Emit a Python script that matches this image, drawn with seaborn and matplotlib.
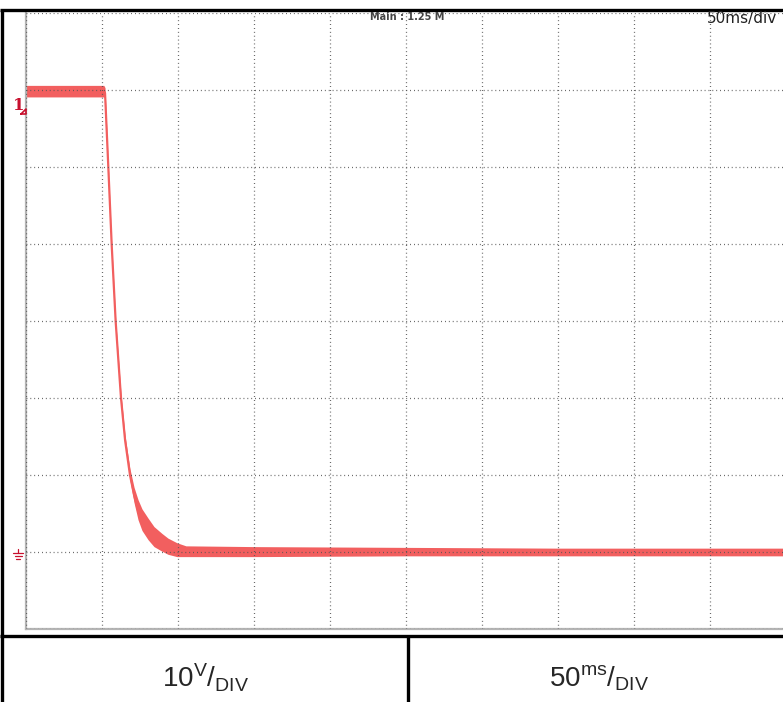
import numpy as np
import pandas as pd
import matplotlib
matplotlib.use("Agg")
import matplotlib.pyplot as plt
from matplotlib.lines import Line2D
import seaborn as sns

# valores (10 V/div, 50 ms/div, tierra = 0 V)
tiempo_ms = [0, 51.0, 51.8, 54.0, 56.2, 58.8, 62.3, 65.0, 68.2, 70.9, 73.5, 76.1, 80.1, 84.0,
             89.3, 93.2, 99.1, 105, 150, 250, 350, 500]
tension_v = [59.9, 59.9, 59.6, 49.8, 39.8, 29.9, 20.0, 14.5, 10.0, 7.4, 5.4, 4.1, 2.8, 1.9,
             1.1, 0.7, 0.2, 0.0, 0.0, 0.0, 0.0, 0.0]
banda_sup = [60.6, 60.6, 60.3, 50.0, 40.0, 30.2, 20.5, 15.1, 10.8, 8.4, 6.8, 5.6, 4.4, 3.3,
             2.4, 1.8, 1.2, 0.8, 0.7, 0.6, 0.5, 0.5]
banda_inf = [59.1, 59.1, 59.0, 49.6, 39.6, 29.6, 19.5, 13.9, 9.3, 6.4, 4.2, 2.8, 1.6, 0.7,
             0.1, -0.3, -0.6, -0.6, -0.6, -0.5, -0.5, -0.5]

escala_v = "10"
escala_t = "50"
texto_main = "Main : 1.25 M"
texto_div = "50ms/div"

sns.set_style("white")
plt.rcParams["font.family"] = ["Liberation Sans", "DejaVu Sans"]
plt.rcParams["mathtext.fontset"] = "custom"
plt.rcParams["mathtext.rm"] = "Liberation Sans"
plt.rcParams["mathtext.it"] = "Liberation Sans:italic"

W, H = 783, 702
fig = plt.figure(figsize=(W / 100, H / 100), dpi=100)

def px(x, y):
    return x / W, 1 - y / H

# area del osciloscopio (se sale por la derecha como en la captura)
x0, y0 = px(26.3, 629)
ax = fig.add_axes([x0, y0, 760 / W, (629 - 13) / H])

df = pd.DataFrame({"t": tiempo_ms, "v": tension_v})
color_traza = "#F25F5F"
ax.fill_between(tiempo_ms, banda_inf, banda_sup, color=color_traza, lw=0, zorder=1)
sns.lineplot(data=df, x="t", y="v", estimator=None, color=color_traza, linewidth=1.6, ax=ax, zorder=2)

ax.set_xlim(0, 500)
ax.set_ylim(-10, 70)
ax.set_xticks(np.arange(0, 501, 50))
ax.set_yticks(np.arange(-10, 71, 10))
ax.tick_params(length=0, labelbottom=False, labelleft=False)
ax.set_xlabel("")
ax.set_ylabel("")
ax.set_axisbelow(False)
ax.grid(True, color="#555555", linewidth=0.9, linestyle=(0, (0.7, 2.4)))
for lado in ["top", "right"]:
    ax.spines[lado].set_visible(False)
for lado in ["left", "bottom"]:
    ax.spines[lado].set_color("#b4b4b4")
    ax.spines[lado].set_linewidth(1.6)

# textos de pantalla
fig.text(*px(407, 17), texto_main, ha="center", va="center",
         fontsize=7, fontweight="bold", color="#444444", family="DejaVu Sans")
fig.text(*px(742, 19), texto_div, ha="center", va="center", fontsize=11,
         color="#222222", family=["Liberation Sans Narrow", "DejaVu Sans Condensed", "DejaVu Sans"])

# marcador de canal 1 y de tierra
rojo = "#C8102E"
fig.text(*px(19, 106), "1", ha="center", va="center", fontsize=12, fontweight="bold",
         color=rojo, family="DejaVu Serif")
fig.add_artist(Line2D([px(21, 0)[0], px(26, 0)[0], px(26, 0)[0], px(21, 0)[0]],
                      [px(0, 114)[1], px(0, 114)[1], px(0, 109)[1], px(0, 114)[1]],
                      color=rojo, lw=1.2))
gx = 18
fig.add_artist(Line2D([px(gx, 0)[0]] * 2, [px(0, 549)[1], px(0, 553)[1]], color=rojo, lw=0.9))
for yy, half in [(553, 5), (556, 3.5), (559, 2)]:
    fig.add_artist(Line2D([px(gx - half, 0)[0], px(gx + half, 0)[0]], [px(0, yy)[1]] * 2,
                          color=rojo, lw=0.9))

# marco exterior y tabla inferior
negro = dict(color="black", lw=2.4, solid_capstyle="butt")
fig.add_artist(Line2D([px(2, 0)[0]] * 2, [0, px(0, 9.5)[1]], **negro))
fig.add_artist(Line2D([0, 1], [px(0, 9.5)[1]] * 2, **negro))
fig.add_artist(Line2D([0, 1], [px(0, 636)[1]] * 2, **negro))
fig.add_artist(Line2D([px(407.5, 0)[0]] * 2, [0, px(0, 636)[1]], **negro))

fig.text(*px(206, 678), r"$\mathrm{" + escala_v + r"}^{\mathrm{V}}/_{\mathrm{DIV}}$",
         ha="center", va="center", fontsize=20)
fig.text(*px(599, 678), r"$\mathrm{" + escala_t + r"}^{\mathrm{ms}}/_{\mathrm{DIV}}$",
         ha="center", va="center", fontsize=20)

fig.savefig("out.png", dpi=100)
